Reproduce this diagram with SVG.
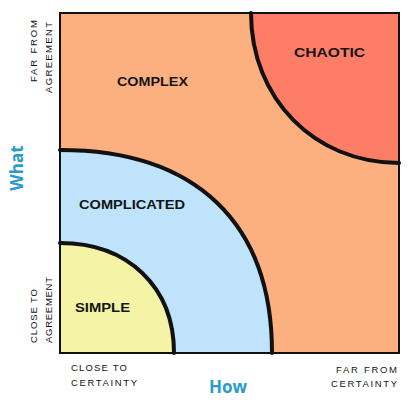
<svg xmlns="http://www.w3.org/2000/svg" width="418" height="405" viewBox="0 0 418 405">
<style>
.edge{fill:none;stroke:#111;stroke-width:4;stroke-linecap:round;stroke-linejoin:round}
.frame{fill:none;stroke:#111;stroke-width:2}
.lbl{font-family:"Liberation Sans",Arial,sans-serif;font-weight:bold;font-size:13.5px;fill:#151515}
.ax{font-family:"Liberation Sans",Arial,sans-serif;font-size:9.5px;fill:#151515}
.big{font-family:"Open Sans","Liberation Sans",sans-serif;font-weight:bold;font-size:17px;fill:#2a9bc9}
</style>
<rect width="418" height="405" fill="#ffffff"/>
<g id="complex">
<rect x="60" y="13" width="339" height="340" fill="#fcb07f"/>
<text class="lbl" x="117" y="86" textLength="71" lengthAdjust="spacingAndGlyphs">COMPLEX</text>
</g>
<g id="chaotic">
<path d="M251,13 C251,98 314,163 399,163 L399,13 Z" fill="#fe7d67"/>
<path class="edge" d="M251,13 C251,98 314,163 399,163"/>
<text class="lbl" x="294" y="57" textLength="71" lengthAdjust="spacingAndGlyphs">CHAOTIC</text>
</g>
<g id="complicated">
<path d="M60,150 C196,150 272,223 272,353 L60,353 Z" fill="#bee3fa"/>
<path class="edge" d="M60,150 C196,150 272,223 272,353"/>
<text class="lbl" x="79" y="209" textLength="106" lengthAdjust="spacingAndGlyphs">COMPLICATED</text>
</g>
<g id="simple">
<path d="M60,243 C128,243 174,287 174,353 L60,353 Z" fill="#f4f3a6"/>
<path class="edge" d="M60,243 C128,243 174,287 174,353"/>
<text class="lbl" x="75" y="312" textLength="55" lengthAdjust="spacingAndGlyphs">SIMPLE</text>
</g>
<rect class="frame" x="60" y="13" width="339" height="340"/>
<g id="axes">
<text class="big" x="23" y="168" text-anchor="middle" transform="rotate(-90 23 168)">What</text>
<text class="big" x="228" y="393" text-anchor="middle">How</text>
<text class="ax" transform="translate(37,82) rotate(-90)" x="0" y="0" textLength="62" lengthAdjust="spacing">FAR FROM</text>
<text class="ax" transform="translate(52,93) rotate(-90)" x="0" y="0" textLength="71" lengthAdjust="spacing">AGREEMENT</text>
<text class="ax" transform="translate(37,343) rotate(-90)" x="0" y="0" textLength="54" lengthAdjust="spacing">CLOSE TO</text>
<text class="ax" transform="translate(52,343) rotate(-90)" x="0" y="0" textLength="66" lengthAdjust="spacing">AGREEMENT</text>
<text class="ax" x="71" y="371" textLength="56" lengthAdjust="spacing">CLOSE TO</text>
<text class="ax" x="71" y="386" textLength="66" lengthAdjust="spacing">CERTAINTY</text>
<text class="ax" x="336" y="373" textLength="61" lengthAdjust="spacing">FAR FROM</text>
<text class="ax" x="331" y="387" textLength="66" lengthAdjust="spacing">CERTAINTY</text>
</g>
</svg>
